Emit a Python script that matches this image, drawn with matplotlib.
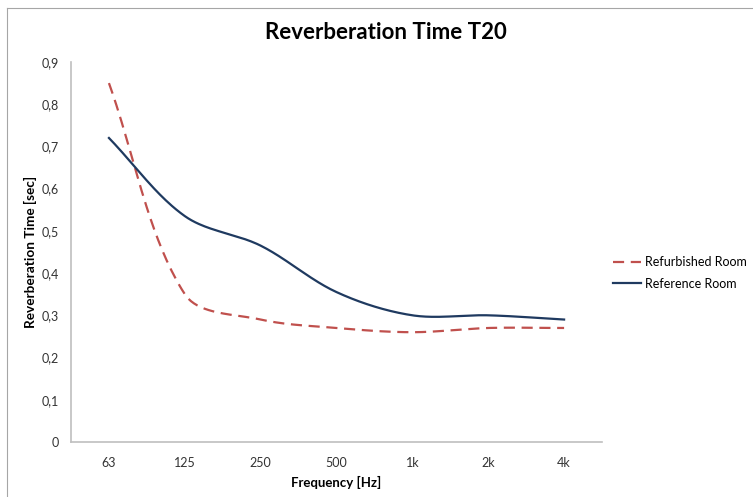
import numpy as np
import matplotlib.pyplot as plt
from matplotlib.lines import Line2D

plt.rcParams['font.family'] = ['Lato', 'DejaVu Sans']

bands = ['63', '125', '250', '500', '1k', '2k', '4k']
refurbished = [0.85, 0.35, 0.29, 0.27, 0.26, 0.27, 0.27]
reference = [0.72, 0.535, 0.465, 0.355, 0.30, 0.30, 0.29]

# pixels per category / per second, used to smooth in screen space
XPX, YPX = 76.0, 422.0


def smooth(x, y, n=40):
    # spreadsheet-style smoothed line: bezier segments whose control
    # points are scaled by the neighbouring chord lengths
    P = np.column_stack([np.asarray(x, float) * XPX, np.asarray(y, float) * YPX])
    m = len(P)
    out = []
    t = np.linspace(0, 1, n)[:, None]
    for i in range(m - 1):
        p0, p3 = P[i], P[i + 1]
        d = np.linalg.norm(p3 - p0)
        if i > 0:
            dp = np.linalg.norm(p0 - P[i - 1])
            p1 = p0 + (p3 - P[i - 1]) * d / (dp + d) / 3
        else:
            p1 = p0 + (p3 - p0) / 3
        if i + 2 < m:
            dn = np.linalg.norm(P[i + 2] - p3)
            p2 = p3 - (P[i + 2] - p0) * d / (d + dn) / 3
        else:
            p2 = p3 - (p3 - p0) / 3
        b = (1 - t) ** 3 * p0 + 3 * (1 - t) ** 2 * t * p1 + 3 * (1 - t) * t ** 2 * p2 + t ** 3 * p3
        out.append(b)
    out = np.vstack(out)
    return out[:, 0] / XPX, out[:, 1] / YPX


fig = plt.figure(figsize=(7.53, 4.97), dpi=100)
ax = fig.add_axes([0.0943, 0.1107, 0.7052, 0.7646])

pos = np.arange(len(bands))
sx, sy = smooth(pos, refurbished)
ax.plot(sx, sy, color='#C0504D', lw=1.6, dashes=(5, 3), label='Refurbished Room')
sx, sy = smooth(pos, reference)
ax.plot(sx, sy, color='#1F3A60', lw=1.6, label='Reference Room')

ax.set_xlim(-0.5, len(bands) - 0.5)
ax.set_ylim(0, 0.9)
ax.set_xticks(pos)
ax.set_xticklabels(bands)
yt = np.arange(0, 0.91, 0.1)
ax.set_yticks(yt)
ax.set_yticklabels(['0'] + [('%.1f' % v).replace('.', ',') for v in yt[1:]])
ax.tick_params(length=0, labelsize=9, colors='#333333')
ax.tick_params(axis='x', pad=11)
ax.tick_params(axis='y', pad=9)

for s in ['top', 'right']:
    ax.spines[s].set_visible(False)
for s in ['left', 'bottom']:
    ax.spines[s].set_color('#BFBFBF')
    ax.spines[s].set_linewidth(1.2)

ax.set_xlabel('Frequency [Hz]', fontsize=9.5, fontweight='bold', labelpad=5)
ax.set_ylabel('Reverberation Time [sec]', fontsize=9.8, fontweight='bold', labelpad=3)
fig.text(0.512, 0.935, 'Reverberation Time T20', ha='center', va='center',
         fontsize=16, fontweight='bold')

ax.legend(loc='center left', bbox_to_anchor=(1.0, 0.445), frameon=False,
          fontsize=9, handlelength=2.2, handletextpad=0.3, labelspacing=0.75)

# chart area border (left and top edges only, the rest is cut off)
fig.add_artist(Line2D([0.0095, 0.0095], [0.0, 0.984], transform=fig.transFigure,
                      color='#A6A6A6', lw=0.8))
fig.add_artist(Line2D([0.0095, 1.0], [0.984, 0.984], transform=fig.transFigure,
                      color='#A6A6A6', lw=0.8))

fig.savefig('out.png', dpi=100)
